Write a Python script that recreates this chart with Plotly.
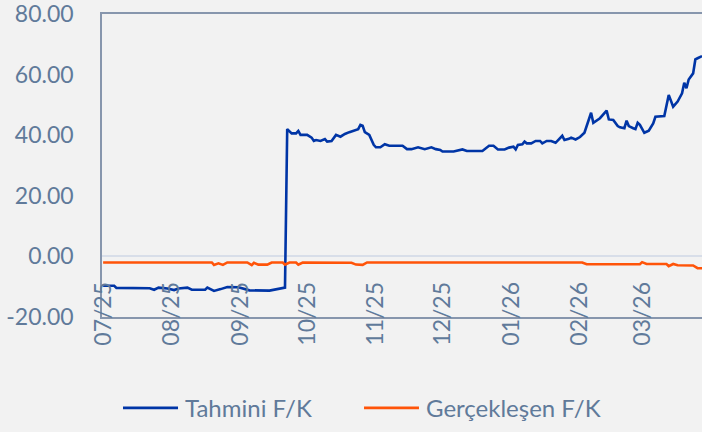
import plotly.graph_objects as go

# Tahmini F/K (forward P/E) series
tahmini_dates = [
    "2025-07-01", "2025-07-06", "2025-07-07", "2025-07-22", "2025-07-24", "2025-07-26",
    "2025-07-30", "2025-08-02", "2025-08-04", "2025-08-08", "2025-08-10", "2025-08-16",
    "2025-08-17", "2025-08-20", "2025-08-23", "2025-08-26", "2025-08-31", "2025-09-03",
    "2025-09-05", "2025-09-14", "2025-09-18", "2025-09-21", "2025-09-22", "2025-09-24",
    "2025-09-26", "2025-09-27", "2025-09-28", "2025-10-01", "2025-10-03", "2025-10-04",
    "2025-10-05", "2025-10-07", "2025-10-09", "2025-10-10", "2025-10-12", "2025-10-14",
    "2025-10-16", "2025-10-18", "2025-10-20", "2025-10-23", "2025-10-24", "2025-10-25",
    "2025-10-26", "2025-10-27", "2025-10-29", "2025-10-31", "2025-11-01", "2025-11-03",
    "2025-11-05", "2025-11-07", "2025-11-13", "2025-11-15", "2025-11-17", "2025-11-20",
    "2025-11-23", "2025-11-26", "2025-11-28", "2025-11-30", "2025-12-01", "2025-12-06",
    "2025-12-09", "2025-12-10", "2025-12-12", "2025-12-19", "2025-12-22", "2025-12-24",
    "2025-12-26", "2025-12-29", "2025-12-31", "2026-01-02", "2026-01-03", "2026-01-04",
    "2026-01-06", "2026-01-07", "2026-01-08", "2026-01-10", "2026-01-12", "2026-01-14",
    "2026-01-15", "2026-01-17", "2026-01-19", "2026-01-21", "2026-01-24", "2026-01-25",
    "2026-01-27", "2026-01-28", "2026-01-30", "2026-02-01", "2026-02-03", "2026-02-04",
    "2026-02-05", "2026-02-06", "2026-02-07", "2026-02-10", "2026-02-13", "2026-02-14",
    "2026-02-16", "2026-02-18", "2026-02-19", "2026-02-21", "2026-02-22", "2026-02-23",
    "2026-02-25", "2026-02-26", "2026-02-27", "2026-02-28", "2026-03-02", "2026-03-04",
    "2026-03-06", "2026-03-07", "2026-03-11", "2026-03-12", "2026-03-13", "2026-03-15",
    "2026-03-17", "2026-03-19", "2026-03-20", "2026-03-21", "2026-03-22", "2026-03-24",
    "2026-03-25", "2026-03-26", "2026-03-28",
]
tahmini_values = [
    -9.7, -9.7, -10.4, -10.5, -11.0, -10.3,
    -10.6, -11.1, -10.6, -10.3, -11.0, -11.0,
    -10.3, -11.4, -10.8, -10.1, -10.2, -10.7,
    -11.2, -11.3, -10.8, -10.3, 42.0, 40.6,
    40.6, 41.4, 40.1, 40.1, 39.2, 38.1,
    38.4, 38.1, 38.7, 37.9, 38.1, 40.1,
    39.5, 40.4, 41.0, 41.7, 42.0, 43.4,
    43.1, 41.0, 40.1, 36.8, 36.0, 36.0,
    37.0, 36.5, 36.5, 35.4, 35.4, 36.0,
    35.4, 36.0, 35.4, 35.1, 34.6, 34.6,
    35.3, 35.3, 34.8, 34.8, 36.5, 36.5,
    35.3, 35.3, 35.9, 36.2, 35.3, 36.8,
    37.0, 37.9, 37.3, 37.3, 38.1, 38.1,
    37.3, 38.1, 38.1, 37.5, 39.8, 38.4,
    38.8, 39.2, 38.6, 39.4, 40.8, 43.2,
    45.5, 47.4, 44.1, 45.6, 48.1, 45.2,
    45.0, 43.0, 42.6, 42.3, 44.8, 43.0,
    42.3, 42.0, 44.1, 43.4, 40.8, 41.5,
    43.9, 46.1, 46.3, 50.5, 53.3, 49.4,
    51.1, 53.8, 57.3, 55.5, 58.4, 60.4,
    65.0, 65.4, 66.1,
]

# Gerçekleşen F/K (trailing P/E) series
gercek_dates = [
    "2025-07-01", "2025-08-19", "2025-08-20", "2025-08-22", "2025-08-24", "2025-08-26",
    "2025-09-04", "2025-09-06", "2025-09-07", "2025-09-09", "2025-09-13", "2025-09-15",
    "2025-09-20", "2025-09-21", "2025-09-23", "2025-09-26", "2025-09-27", "2025-09-29",
    "2025-10-21", "2025-10-23", "2025-10-26", "2025-10-28", "2026-02-02", "2026-02-04",
    "2026-02-28", "2026-03-01", "2026-03-03", "2026-03-12", "2026-03-13", "2026-03-15",
    "2026-03-17", "2026-03-24", "2026-03-26", "2026-03-28",
]
gercek_values = [
    -2.0, -2.0, -2.8, -2.3, -2.8, -2.0,
    -2.0, -2.9, -2.1, -2.7, -2.7, -2.0,
    -2.0, -2.7, -2.0, -2.0, -2.7, -2.0,
    -2.1, -2.7, -2.8, -2.0, -2.0, -2.6,
    -2.6, -1.9, -2.5, -2.5, -3.2, -2.5,
    -2.9, -3.0, -3.9, -3.9,
]

y_ticks = [-20, 0, 20, 40, 60, 80]
series_names = ["Tahmini F/K", "Gerçekleşen F/K"]
series_colors = ["#0035A6", "#FF5409"]

text_color = "#607A9A"
axis_color = "#8796AD"
bg = "#F2F2F2"
font_family = "Lato, 'Open Sans', sans-serif"

fig = go.Figure()
fig.add_trace(go.Scatter(x=tahmini_dates, y=tahmini_values, mode="lines",
                         name=series_names[0], showlegend=False,
                         line=dict(color=series_colors[0], width=2.6)))
fig.add_trace(go.Scatter(x=gercek_dates, y=gercek_values, mode="lines",
                         name=series_names[1], showlegend=False,
                         line=dict(color=series_colors[1], width=2.6)))

# Legend drawn below the plot: line sample + label for each series
legend_items = [(0.035, 0.1267, 0.135), (0.4367, 0.5283, 0.5367)]
legend_y = -0.300
for (x0, x1, xt), name, color in zip(legend_items, series_names, series_colors):
    fig.add_shape(type="line", xref="paper", yref="paper", x0=x0, x1=x1,
                  y0=legend_y, y1=legend_y, line=dict(color=color, width=2.6))
    fig.add_annotation(xref="paper", yref="paper", x=xt, y=legend_y,
                       xanchor="left", yanchor="middle", showarrow=False,
                       text=name, font=dict(size=24, color=text_color, family=font_family))

fig.update_layout(
    width=702, height=432,
    margin=dict(l=102, r=0, t=14, b=115),
    paper_bgcolor=bg, plot_bgcolor=bg,
    font=dict(family=font_family, color=text_color, size=23),
    showlegend=False,
    xaxis=dict(
        type="date",
        range=["2025-06-30 12:00", "2026-03-28"],
        tick0="2025-07-01", dtick="M1", tickformat="%m/%y",
        tickangle=-90, ticks="", showgrid=False, zeroline=False,
        showline=True, linecolor=axis_color, linewidth=1.5, mirror=True,
        ticklabelstandoff=-46, ticklabeloverflow="allow",
        tickfont=dict(size=23, color=text_color),
    ),
    yaxis=dict(
        range=[-20, 80.001], tickmode="array", tickvals=y_ticks,
        ticktext=[f"{v:.2f}" for v in y_ticks],
        showgrid=False, ticks="",
        zeroline=True, zerolinecolor="#D8DEE9", zerolinewidth=1.5,
        showline=True, linecolor=axis_color, linewidth=1.5,
        ticklabelstandoff=22, ticklabeloverflow="allow",
        tickfont=dict(size=23, color=text_color),
    ),
)

fig.write_html("out.html")
